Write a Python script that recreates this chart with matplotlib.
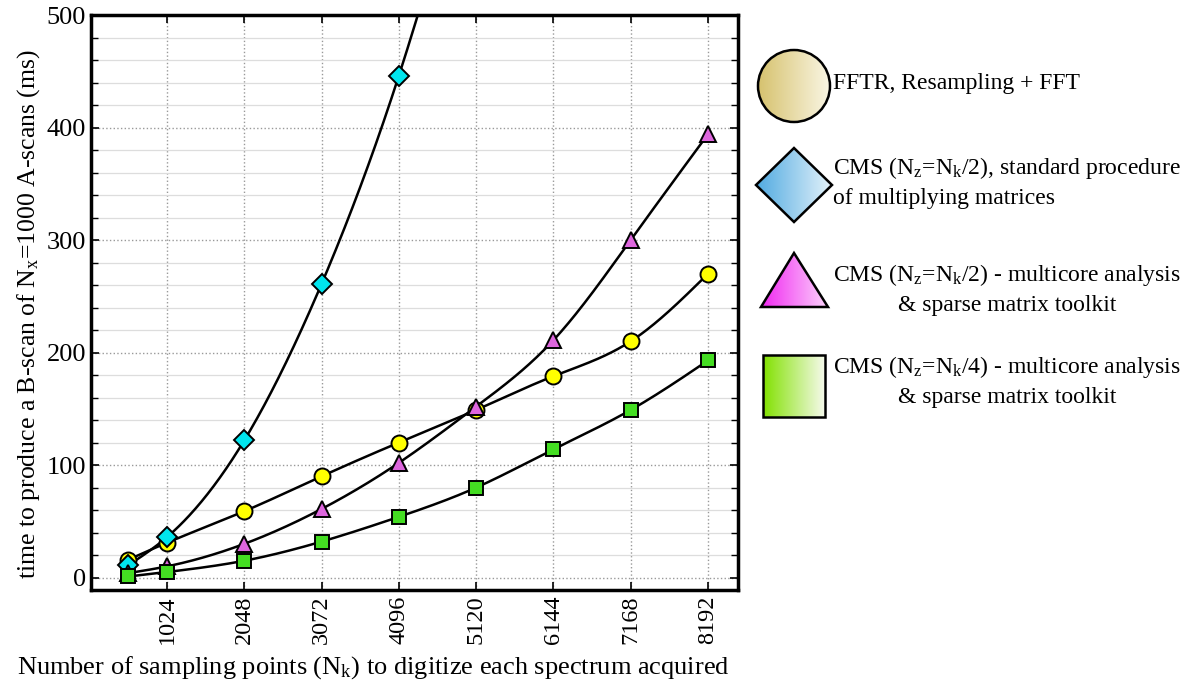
import numpy as np
import matplotlib
matplotlib.use("Agg")
import matplotlib.pyplot as plt
from matplotlib.patches import Circle, Polygon, Rectangle
from matplotlib.ticker import MultipleLocator

plt.rcParams['font.family'] = ['Liberation Serif', 'DejaVu Serif']
plt.rcParams['mathtext.fontset'] = 'custom'
plt.rcParams['mathtext.rm'] = 'Liberation Serif'
plt.rcParams['mathtext.it'] = 'Liberation Serif:italic'

# ---- data ----
nk = [512, 1024, 2048, 3072, 4096, 5120, 6144, 7168, 8192]
fftr = [16, 31, 59, 90, 120, 149, 179, 210, 270]
cms_std_x = [512, 1024, 2048, 3072, 4096, 5120]
cms_std = [11, 36, 122, 261, 446, 680]
cms_half = [4, 10, 30, 61, 102, 152, 211, 300, 394]
cms_quarter = [1, 5, 15, 32, 54, 80, 114, 149, 193]
xticks = [1024, 2048, 3072, 4096, 5120, 6144, 7168, 8192]

legend_labels = [
    "FFTR, Resampling + FFT",
    "CMS (N$_\\mathrm{z}$=N$_\\mathrm{k}$/2), standard procedure\nof multiplying matrices",
    "CMS (N$_\\mathrm{z}$=N$_\\mathrm{k}$/2) - multicore analysis\n& sparse matrix toolkit",
    "CMS (N$_\\mathrm{z}$=N$_\\mathrm{k}$/4) - multicore analysis\n& sparse matrix toolkit",
]


def spline(x, y, n=400):
    """Natural cubic spline through the points (for drawing smooth lines)."""
    x = np.asarray(x, float); y = np.asarray(y, float)
    m = len(x)
    h = np.diff(x)
    A = np.zeros((m, m)); b = np.zeros(m)
    A[0, 0] = 1; A[-1, -1] = 1
    for i in range(1, m - 1):
        A[i, i - 1] = h[i - 1]; A[i, i] = 2 * (h[i - 1] + h[i]); A[i, i + 1] = h[i]
        b[i] = 3 * ((y[i + 1] - y[i]) / h[i] - (y[i] - y[i - 1]) / h[i - 1])
    c = np.linalg.solve(A, b)
    xs = np.linspace(x[0], x[-1], n)
    idx = np.clip(np.searchsorted(x, xs) - 1, 0, m - 2)
    dx = xs - x[idx]
    bb = (y[idx + 1] - y[idx]) / h[idx] - h[idx] * (2 * c[idx] + c[idx + 1]) / 3
    dd = (c[idx + 1] - c[idx]) / (3 * h[idx])
    ys = y[idx] + bb * dx + c[idx] * dx ** 2 + dd * dx ** 3
    return xs, ys


W, H = 1191, 692
fig = plt.figure(figsize=(W / 100, H / 100), dpi=100)
ax = fig.add_axes([91 / W, 1 - 590 / H, (738 - 91) / W, (590 - 15) / H])

series = [
    (nk, fftr, 'o', '#ffff00', 11.5),
    (cms_std_x, cms_std, 'D', '#00e5ee', 10),
    (nk, cms_half, '^', '#dd66dd', 11),
    (nk, cms_quarter, 's', '#44dd22', 10),
]
for xs, ys, mk, col, ms in series:
    sx, sy = spline(xs, ys)
    ax.plot(sx, sy, color='black', lw=1.8, zorder=3)
    ax.plot(xs, ys, linestyle='none', marker=mk, markersize=ms,
            markerfacecolor=col, markeredgecolor='black', markeredgewidth=1.4, zorder=4)

ax.set_xlim(17, 8590)
ax.set_ylim(-11, 500)
ax.set_xticks(xticks)
ax.set_xticklabels([str(t) for t in xticks], rotation=90, fontsize=17.5)
ax.yaxis.set_major_locator(MultipleLocator(100))
ax.yaxis.set_minor_locator(MultipleLocator(20))
ax.tick_params(axis='y', labelsize=19)
ax.tick_params(which='both', direction='in', top=True, right=True)
ax.tick_params(which='major', length=6, width=1.2)
ax.tick_params(axis='x', pad=4)
ax.tick_params(which='minor', length=5, width=1.0)
ax.grid(which='major', color='#999999', linestyle=':', linewidth=1.0)
ax.grid(which='minor', axis='y', color='#dddddd', linestyle='-', linewidth=0.9)
ax.set_axisbelow(True)
for s in ax.spines.values():
    s.set_linewidth(2.5)

ax.set_xlabel("Number of sampling points (N$_\\mathrm{k}$) to digitize each spectrum acquired",
              fontsize=19)
ax.xaxis.set_label_coords((373 - 91) / (738 - 91), -0.112)
ax.set_ylabel("time to produce a B-scan of N$_\\mathrm{x}$=1000 A-scans (ms)", fontsize=18.5)
ax.yaxis.set_label_coords(-0.075, 0.48)

# ---- legend panel drawn in pixel coordinates ----
lax = fig.add_axes([0, 0, 1, 1], zorder=-1)
lax.set_xlim(0, W); lax.set_ylim(H, 0); lax.axis('off')

def grad_patch(patch, c0, c1, x0, x1, y0, y1):
    g = np.linspace(0, 1, 256)
    c0 = np.array(c0) / 255; c1 = np.array(c1) / 255
    img = (c0[None, :] * (1 - g[:, None]) + c1[None, :] * g[:, None])[None, :, :]
    im = lax.imshow(img, extent=(x0, x1, y1, y0), aspect='auto', zorder=1)
    lax.add_patch(patch)
    im.set_clip_path(patch)
    return im

# circle
lax.add_patch(Circle((794, 86), 36, facecolor='none', edgecolor='black', lw=1.8, zorder=2))
grad_patch(Circle((794, 86), 36, facecolor='none', edgecolor='none'),
           (214, 194, 110), (250, 246, 228), 758, 830, 50, 122)
# diamond
dpts = [(756, 185), (794, 148), (832, 185), (794, 222)]
lax.add_patch(Polygon(dpts, closed=True, facecolor='none', edgecolor='black', lw=1.8, zorder=2))
grad_patch(Polygon(dpts, closed=True, facecolor='none', edgecolor='none'),
           (80, 170, 225), (228, 242, 250), 756, 832, 148, 222)
# triangle
tpts = [(761, 307), (794, 253), (828, 307)]
lax.add_patch(Polygon(tpts, closed=True, facecolor='none', edgecolor='black', lw=1.8, zorder=2))
grad_patch(Polygon(tpts, closed=True, facecolor='none', edgecolor='none'),
           (240, 40, 240), (252, 210, 252), 761, 828, 253, 307)
# square
lax.add_patch(Rectangle((763, 355), 62, 62, facecolor='none', edgecolor='black', lw=1.8, zorder=2))
grad_patch(Rectangle((763, 355), 62, 62, facecolor='none', edgecolor='none'),
           (130, 225, 0), (246, 250, 236), 763, 825, 355, 417)

text_kw = dict(fontsize=17, va='center', ha='left', zorder=3)
lax.text(833, 84, legend_labels[0], **text_kw)
lax.text(833, 182, legend_labels[1], multialignment='left', linespacing=1.45, **text_kw)
lax.text(833, 289, legend_labels[2], multialignment='center', linespacing=1.45, **text_kw)
lax.text(833, 381, legend_labels[3], multialignment='center', linespacing=1.45, **text_kw)

fig.savefig("out.png", dpi=100)
